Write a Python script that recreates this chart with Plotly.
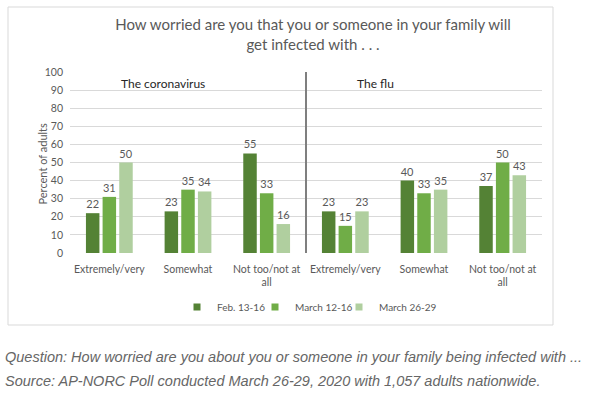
import plotly.graph_objects as go

categories = ["Extremely/very", "Somewhat", "Not too/not at<br>all",
              "Extremely/very", "Somewhat", "Not too/not at<br>all"]
series_names = ["Feb. 13-16", "March 12-16", "March 26-29"]
feb_13_16 = [22, 23, 55, 23, 40, 37]
march_12_16 = [31, 35, 33, 15, 33, 50]
march_26_29 = [50, 34, 16, 23, 35, 43]
y_ticks = [0, 10, 20, 30, 40, 50, 60, 70, 80, 90, 100]
panel_labels = ["The coronavirus", "The flu"]

colors = ["#548235", "#70AD47", "#B0CF9F"]
FONT = "Lato, 'Open Sans', sans-serif"
GRAY = "#595959"

W, H = 595, 395
L, R, T, B = 70, 542, 72, 253          # plot area in pixels
PW, PH = R - L, B - T


def px(x):
    return (x - L) / PW


def py(y):
    return (B - y) / PH


xs = list(range(len(categories)))
legend_ids = ["legend", "legend2", "legend3"]
legend_text_x = [217, 295, 379]

fig = go.Figure()
for name, vals, col in zip(series_names, [feb_13_16, march_12_16, march_26_29], colors):
    fig.add_trace(go.Bar(
        x=xs, y=vals, name=name, marker=dict(color=col, line=dict(width=0)),
        text=[str(v) for v in vals], textposition="outside",
        textfont=dict(family=FONT, size=11, color=GRAY), cliponaxis=False,
        showlegend=False,
    ))
# legend entries (small square swatches like the original)
for name, col, lg in zip(series_names, colors, legend_ids):
    fig.add_trace(go.Scatter(
        x=[None], y=[None], mode="markers", name=name,
        marker=dict(symbol="square", size=7, color=col), legend=lg, showlegend=True,
    ))

legend_common = dict(orientation="h", yanchor="middle", y=py(307), xanchor="left",
                     font=dict(family=FONT, size=10, color=GRAY), itemwidth=30,
                     bgcolor="rgba(0,0,0,0)", borderwidth=0)

fig.update_layout(
    width=W, height=H,
    margin=dict(l=L, r=W - R, t=T, b=H - B),
    paper_bgcolor="white", plot_bgcolor="white",
    barmode="group", bargap=0.365, bargroupgap=0.19,
    font=dict(family=FONT, size=11, color=GRAY),
    showlegend=True,
    legend=dict(legend_common, x=px(legend_text_x[0] - 40)),
    legend2=dict(legend_common, x=px(legend_text_x[1] - 40)),
    legend3=dict(legend_common, x=px(legend_text_x[2] - 40)),
    title=dict(text="How worried are you that you or someone in your family will<br>get infected with . . .",
               x=(313 / W), xanchor="center", y=1 - 30 / H, yanchor="middle",
               font=dict(family=FONT, size=15, color=GRAY)),
    xaxis=dict(tickmode="array", tickvals=xs, ticktext=categories, range=[-0.5, 5.5],
               showgrid=False, zeroline=False, showline=False, ticks="",
               ticklabelstandoff=8,
               tickfont=dict(family=FONT, size=10.5, color=GRAY), tickangle=0, fixedrange=True),
    yaxis=dict(range=[0, 100], tickmode="array", tickvals=y_ticks, showgrid=True,
               gridcolor="#D9D9D9", gridwidth=1, zeroline=False, showline=False, ticks="",
               ticklabelstandoff=6,
               tickfont=dict(family=FONT, size=10.5, color=GRAY), fixedrange=True),
)

# outer chart border
fig.add_shape(type="rect", xref="paper", yref="paper",
              x0=px(8), x1=px(553), y0=py(325), y1=py(7),
              line=dict(color="#D9D9D9", width=1), layer="below")
# divider between panels
fig.add_shape(type="line", xref="x", yref="y", x0=2.5, x1=2.5, y0=-2.5, y1=100,
              line=dict(color="#7F7F7F", width=2))

# panel labels
fig.add_annotation(text=panel_labels[0], xref="x", yref="y", x=0.68, y=93.5,
                   showarrow=False, font=dict(family=FONT, size=12, color="#262626"))
fig.add_annotation(text=panel_labels[1], xref="x", yref="y", x=3.38, y=93.5,
                   showarrow=False, font=dict(family=FONT, size=12, color="#262626"))

# y axis title
fig.add_annotation(text="Percent of adults", xref="paper", yref="paper",
                   x=px(33), y=py(164), textangle=-90,
                   showarrow=False, font=dict(family=FONT, size=11, color=GRAY))

# captions
CAP = "'Liberation Sans', Arial, sans-serif"
fig.add_annotation(text="<i>Question: How worried are you about you or someone in your family being infected with ...</i>",
                   xref="paper", yref="paper", x=px(3), xanchor="left",
                   y=py(357), yanchor="middle", showarrow=False,
                   font=dict(family=CAP, size=14.5, color="#666666"))
fig.add_annotation(text="<i>Source: AP-NORC Poll conducted March 26-29, 2020 with 1,057 adults nationwide.</i>",
                   xref="paper", yref="paper", x=px(3), xanchor="left",
                   y=py(381), yanchor="middle", showarrow=False,
                   font=dict(family=CAP, size=14.5, color="#666666"))

fig.write_html("out.html", config={"displayModeBar": False},
               post_script="document.body.style.margin='0';")
